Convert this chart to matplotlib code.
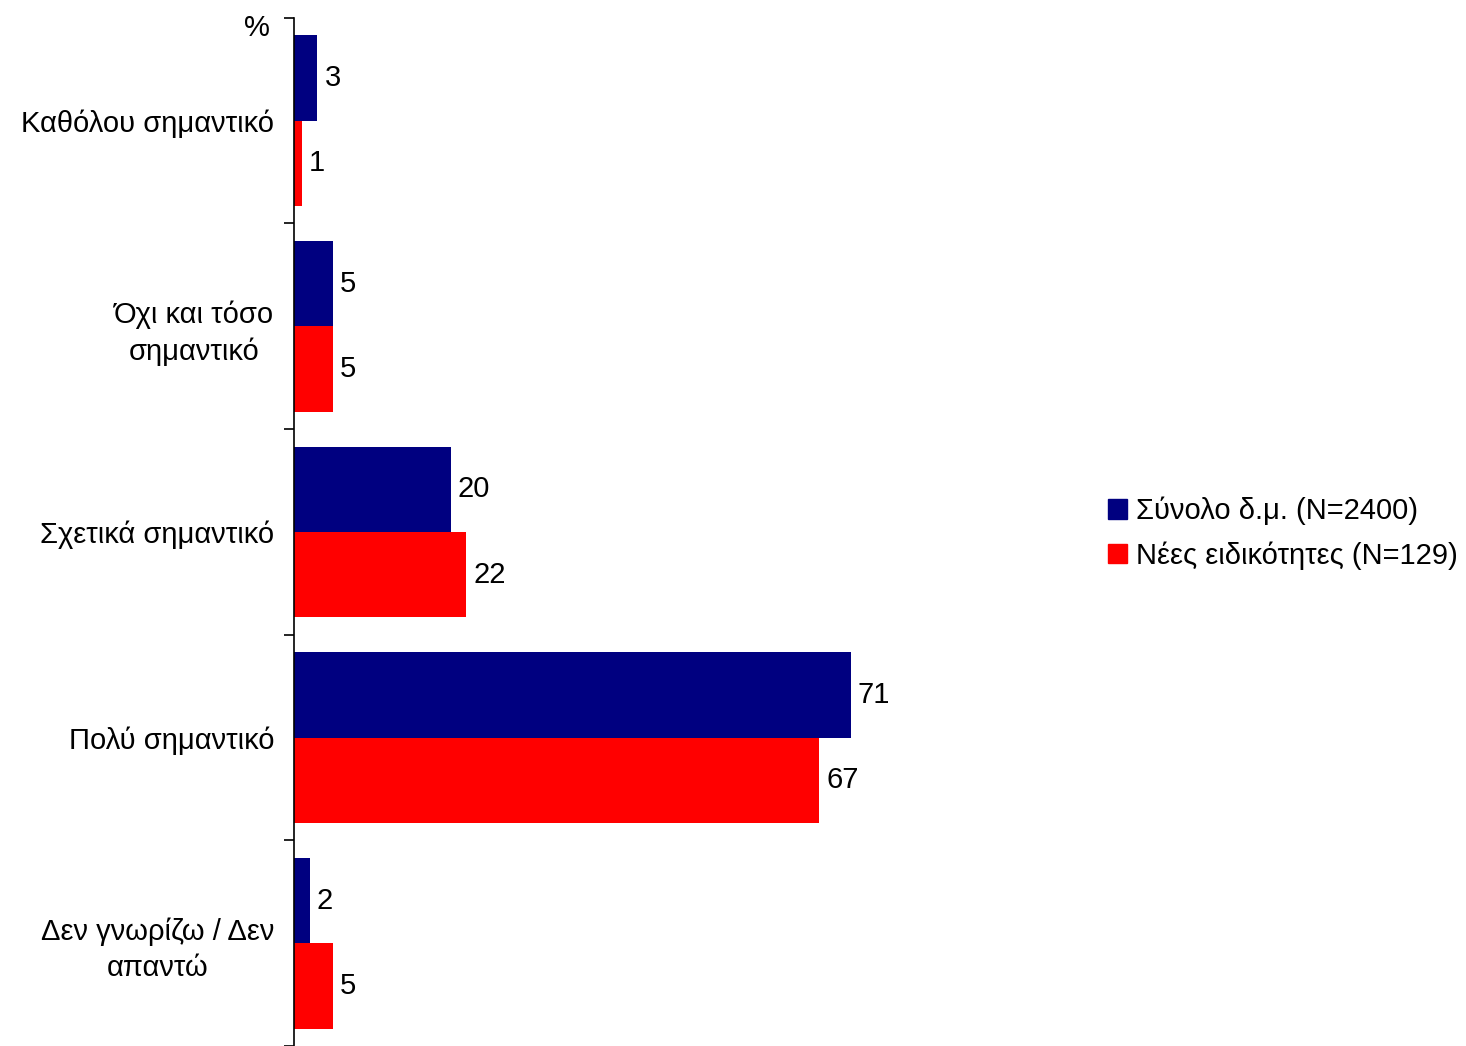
import numpy as np
import matplotlib.pyplot as plt
from matplotlib.patches import Patch

plt.rcParams['font.family'] = ['Liberation Sans', 'DejaVu Sans']

# data
categories = ['Καθόλου σημαντικό', 'Όχι και τόσο\nσημαντικό', 'Σχετικά σημαντικό',
              'Πολύ σημαντικό', 'Δεν γνωρίζω / Δεν\nαπαντώ']
total = [3, 5, 20, 71, 2]
new_spec = [1, 5, 22, 67, 5]
series_names = ['Σύνολο δ.μ. (N=2400)', 'Νέες ειδικότητες (N=129)']
colors = ['#000080', '#FF0000']

fig = plt.figure(figsize=(14.66, 10.46), dpi=100)
ax = fig.add_axes([0.2005, 0.0, 0.535, 0.983])

y = np.arange(len(categories))
h = 0.415
ax.barh(y - h / 2, total, height=h, color=colors[0])
ax.barh(y + h / 2, new_spec, height=h, color=colors[1])

for i in range(len(categories)):
    ax.annotate(str(total[i]), (total[i], y[i] - h / 2), xytext=(5, 0),
                textcoords='offset points', va='center', ha='left', fontsize=21)
    ax.annotate(str(new_spec[i]), (new_spec[i], y[i] + h / 2), xytext=(5, 0),
                textcoords='offset points', va='center', ha='left', fontsize=21)

ax.set_xlim(0, 100)
ax.set_ylim(len(categories) - 0.5, -0.5)

for s in ['top', 'right', 'bottom']:
    ax.spines[s].set_visible(False)
ax.spines['left'].set_linewidth(1.2)
ax.set_xticks([])

ax.set_yticks(y)
ax.set_yticklabels(categories, fontsize=21, multialignment='center', linespacing=1.35)
ax.tick_params(axis='y', which='major', length=0, pad=14)
ax.set_yticks(np.arange(len(categories) + 1) - 0.5, minor=True)
ax.tick_params(axis='y', which='minor', length=7, width=1.2)

ax.text(-0.031, 0.99, '%', transform=ax.transAxes, ha='right', va='center', fontsize=21)

handles = [Patch(color=c) for c in colors]
fig.legend(handles, series_names, loc='center left', bbox_to_anchor=(0.748, 0.49),
           frameon=False, fontsize=21, handlelength=0.65, handleheight=0.65,
           handletextpad=0.3, labelspacing=0.55, borderaxespad=0)

fig.savefig('out.png', dpi=100)
